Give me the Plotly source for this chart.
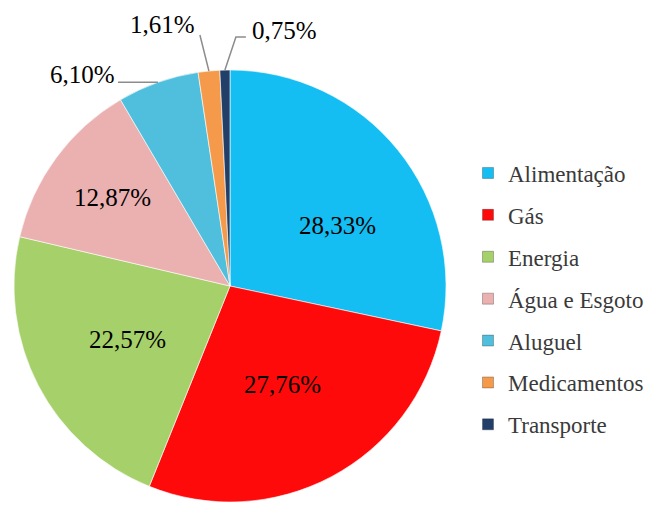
import math
import plotly.graph_objects as go

categories = ["Alimentação", "Gás", "Energia", "Água e Esgoto", "Aluguel", "Medicamentos", "Transporte"]
values = [28.33, 27.76, 22.57, 12.87, 6.10, 1.61, 0.75]
colors = ["#14BDF2", "#FF0A0A", "#A6D06A", "#EBB0B0", "#4FBFDD", "#F59A4A", "#223F6A"]

W, H = 653, 506
OFF = 8                       # page body margin of the html page
CX, CY, R = 230, 286, 216     # wanted pie centre/radius on screen (px)
SERIF = "Liberation Serif, Times New Roman, serif"

def px2paper(sx, sy):
    return (sx - OFF) / W, 1 - (sy - OFF) / H

def fmt(v):
    return f"{v:.2f}%".replace(".", ",")

x0, y0 = px2paper(CX - R, CY + R)
x1, y1 = px2paper(CX + R, CY - R)

fig = go.Figure()
fig.add_trace(go.Pie(
    labels=categories, values=values, sort=False, direction="clockwise", rotation=0,
    marker=dict(colors=colors, line=dict(color="rgba(255,255,255,0.6)", width=1)),
    textinfo="none",
    domain=dict(x=[x0, x1], y=[y0, y1]),
    showlegend=False, hoverinfo="label+percent",
))

# legend entries (separate markers so the spacing can match)
for c, col in zip(categories, colors):
    fig.add_trace(go.Scatter(
        x=[None], y=[None], mode="markers", name=c, legendgroup=c,
        marker=dict(symbol="square", size=11, color=col, line=dict(color="rgba(0,0,0,0.25)", width=1)),
    ))

# label placement style: inside labels at 0.55R on the mid-angle plus a nudge,
# outside labels with an elbowed leader line from the rim
inside_nudge = {"Alimentação": (15, 14), "Gás": (-3, -6), "Energia": (3, -1), "Água e Esgoto": (-22, -18)}
outside_style = {
    # (leader points relative to rim point, text anchor point relative to rim point, xanchor)
    "Aluguel": ([(-40, 0)], (-41, -8), "right"),
    "Medicamentos": ([(-9, -36)], (-46, -47), "center"),
    "Transporte": ([(11, -33), (21, -33)], (25, -40), "left"),
}
total = sum(values)
cum = 0
for c, v in zip(categories, values):
    mid = (cum + v / 2) / total * 2 * math.pi
    cum += v
    s, co = math.sin(mid), -math.cos(mid)
    if c in inside_nudge:
        dx, dy = inside_nudge[c]
        sx, sy = CX + 0.55 * R * s + dx, CY + 0.55 * R * co + dy
        ax_, ay_ = px2paper(sx, sy)
        fig.add_annotation(x=ax_, y=ay_, xref="paper", yref="paper", text=fmt(v), showarrow=False,
                           xanchor="center", yanchor="middle",
                           font=dict(family=SERIF, size=25, color="black"))
        continue
    rx, ry = CX + R * s, CY + R * co
    pts, (tx, ty), anchor = outside_style[c]
    path_pts = [(rx, ry)] + [(rx + a, ry + b) for a, b in pts]
    path = ""
    for i, (sx, sy) in enumerate(path_pts):
        px_, py_ = px2paper(sx, sy)
        path += ("M" if i == 0 else " L") + f" {px_:.5f},{py_:.5f}"
    fig.add_shape(type="path", path=path, xref="paper", yref="paper",
                  line=dict(color="#8C8C8C", width=1.5))
    lx, ly = px2paper(rx + tx, ry + ty)
    fig.add_annotation(x=lx, y=ly, xref="paper", yref="paper", text=fmt(v), showarrow=False,
                       xanchor=anchor, yanchor="middle",
                       font=dict(family=SERIF, size=25, color="black"))

fig.update_layout(
    width=W, height=H, margin=dict(l=0, r=0, t=0, b=0, autoexpand=False),
    font=dict(family=SERIF, size=23, color="#3A3A3A"),
    paper_bgcolor="white", plot_bgcolor="white",
    xaxis=dict(visible=False), yaxis=dict(visible=False),
    legend=dict(x=460 / W, y=1 - 291 / H, xanchor="left", yanchor="middle",
                font=dict(family=SERIF, size=23, color="#3A3A3A"),
                tracegroupgap=9, traceorder="grouped", bgcolor="rgba(0,0,0,0)"),
)

fig.write_html("out.html")
